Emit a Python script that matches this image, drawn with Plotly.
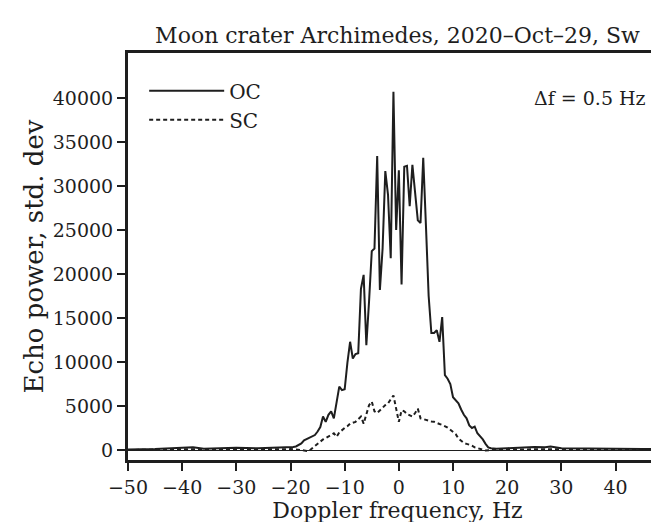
import plotly.graph_objects as go

# Doppler frequency (Hz) for each spectrum sample
freq_oc = [-50, -45, -40, -38, -36, -34, -30, -26, -22, -20, -19.5, -19, -18.5, -18, -17.5, -17, -16.5, -16,
           -15.5, -15, -14.5, -14, -13.5, -13, -12.5, -12, -11.5, -11, -10.5, -10, -9.5, -9, -8.5, -8,
           -7.5, -7, -6.5, -6, -5.5, -5, -4.5, -4, -3.5, -3, -2.5, -2, -1.5, -1, -0.5, 0, 0.5, 1, 1.5,
           2, 2.5, 3, 3.5, 4, 4.5, 5, 5.5, 6, 6.5, 7, 7.5, 8, 8.5, 9, 9.5, 10, 10.5, 11, 11.5, 12, 12.5,
           13, 13.5, 14, 14.5, 15, 15.5, 16, 16.5, 17, 18, 20, 22, 25, 27, 28, 30, 35, 40, 45, 49.5]
power_oc = [50, 100, 250, 300, 150, 200, 250, 200, 250, 300, 350, 400, 550, 750, 1100, 1250, 1400, 1550,
            1700, 2100, 2600, 3800, 3200, 4000, 4400, 3600, 5500, 7200, 6800, 6900, 9900, 12300, 10400, 10900,
            11000, 18300, 19900, 11900, 16900, 22600, 22900, 33400, 18200, 22900, 31700, 29000, 21800, 40700,
            25000, 31800, 18800, 32200, 32300, 27700, 32400, 29400, 26100, 25800, 33200, 25500, 17500, 13300,
            13300, 13600, 12300, 15100, 8500, 8100, 7500, 6000, 5600, 5300, 4600, 4000, 3600, 2800, 2500, 2650,
            1900, 1600, 1200, 700, 300, 200, 150, 200, 250, 350, 300, 400, 200, 150, 100, 100, 100]

freq_sc = [-50, -40, -30, -20, -18, -17, -16.5, -16, -15.5, -15, -14.5, -14, -13.5, -13, -12.5, -12, -11.5,
           -11, -10.5, -10, -9.5, -9, -8.5, -8, -7.5, -7, -6.5, -6, -5.5, -5, -4.5, -4, -3.5, -3, -2.5, -2,
           -1.5, -1, -0.5, 0, 0.5, 1, 1.5, 2, 2.5, 3, 3.5, 4, 4.5, 5, 5.5, 6, 6.5, 7, 7.5, 8, 8.5, 9, 9.5,
           10, 10.5, 11, 11.5, 12, 12.5, 13, 13.5, 14, 14.5, 15, 15.5, 16, 17, 20, 30, 40, 49.5]
power_sc = [0, 100, 50, 100, 0, -100, -50, 200, 400, 700, 1000, 1200, 1350, 1500, 1700, 1900, 1500,
            2000, 2300, 2500, 2700, 3000, 3100, 3200, 3500, 3800, 3000, 4000, 5100, 5500, 4400, 4200, 4500,
            4900, 5100, 5300, 5700, 6200, 4700, 3200, 4500, 4400, 4100, 3950, 3800, 4200, 4700, 3600, 3500,
            3400, 3350, 3250, 3200, 3050, 2950, 2850, 2700, 2550, 2300, 2100, 1800, 1300, 1000, 800, 700,
            600, 500, 300, 200, 100, 0, -50, 0, 50, 100, 50, 50]

x_ticks = [-50, -40, -30, -20, -10, 0, 10, 20, 30, 40]
x_tick_text = ["\u221250", "\u221240", "\u221230", "\u221220", "\u221210", "0", "10", "20", "30", "40"]
y_ticks = [0, 5000, 10000, 15000, 20000, 25000, 30000, 35000, 40000]
y_tick_text = ["0", "5000", "10000", "15000", "20000", "25000", "30000", "35000", "40000"]

FONT = "DejaVu Serif"
INK = "#1e1e1e"

fig = go.Figure()
fig.add_trace(go.Scatter(x=freq_oc, y=power_oc, mode="lines", name="OC",
                         line=dict(color=INK, width=2)))
fig.add_trace(go.Scatter(x=freq_sc, y=power_sc, mode="lines", name="SC",
                         line=dict(color=INK, width=2, dash="4px,3px")))

fig.update_layout(
    width=659, height=522,
    margin=dict(l=120, r=0, t=45, b=70),
    paper_bgcolor="white", plot_bgcolor="white",
    font=dict(family=FONT, size=19, color=INK),
    title=dict(text="Moon crater Archimedes, 2020\u2013Oct\u201329, Sw",
               x=0.5, xref="paper", xanchor="center", y=0.948, yanchor="middle",
               font=dict(family=FONT, size=22, color=INK)),
    showlegend=True,
    legend=dict(x=0.03, y=0.955, xanchor="left", yanchor="top", bgcolor="rgba(0,0,0,0)",
                font=dict(family=FONT, size=20, color=INK), itemwidth=75, tracegroupgap=0),
    annotations=[dict(text="\u0394f = 0.5 Hz", xref="paper", yref="paper", x=0.965, y=0.889,
                      xanchor="right", yanchor="middle", showarrow=False,
                      font=dict(family=FONT, size=19, color=INK))],
)
fig.update_xaxes(range=[-50, 49.5], tickvals=x_ticks, ticktext=x_tick_text,
                 showline=True, linecolor=INK, linewidth=3, mirror=True,
                 ticks="outside", ticklen=8, tickwidth=1.5, tickcolor=INK,
                 showgrid=False, zeroline=False,
                 title=dict(text="Doppler frequency, Hz", standoff=0,
                            font=dict(family=FONT, size=22, color=INK)),
                 tickfont=dict(family=FONT, size=19, color=INK))
fig.update_yaxes(range=[-1137, 45120], tickvals=y_ticks, ticktext=y_tick_text,
                 showline=True, linecolor=INK, linewidth=3, mirror=False,
                 ticks="outside", ticklen=8, tickwidth=1.5, tickcolor=INK,
                 showgrid=False, zeroline=True, zerolinecolor=INK, zerolinewidth=1.2,
                 title=dict(text="Echo power, std. dev", standoff=2,
                            font=dict(family=FONT, size=26, color=INK)),
                 tickfont=dict(family=FONT, size=19, color=INK))

fig.write_html("out.html")
